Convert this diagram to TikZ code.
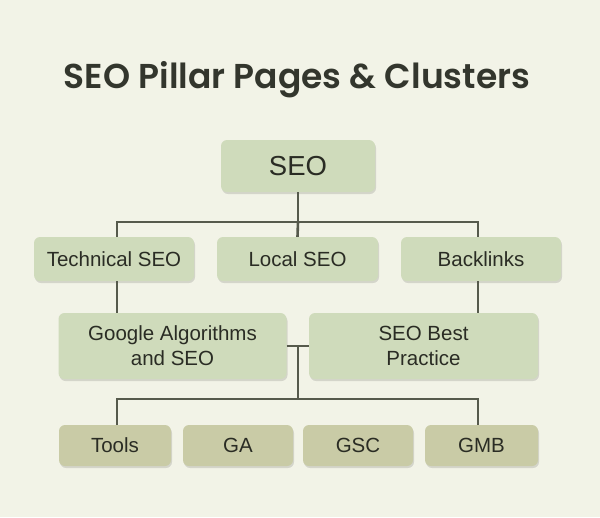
\documentclass[tikz,border=0pt]{standalone}
\usepackage{fontspec}
\setmainfont{Liberation Sans}
\newfontfamily\titlefont{Poppins SemiBold}
\usetikzlibrary{shadows}
\definecolor{bgc}{HTML}{F2F3E7}
\definecolor{boxc}{HTML}{CFDBBB}
\definecolor{leafc}{HTML}{C9CBA6}
\definecolor{linec}{HTML}{565A4C}
\definecolor{txtc}{HTML}{2A2C24}
\definecolor{titc}{HTML}{33362D}
\begin{document}
\begin{tikzpicture}[x=1pt,y=-1pt,
  card/.style={rectangle, rounded corners=6pt, fill=boxc, text=txtc,
    inner sep=0pt, align=center, font=\fontsize{20.5}{25}\selectfont,
    drop shadow={shadow xshift=1pt, shadow yshift=-2pt, opacity=0.12, fill=black}},
  leaf/.style={card, fill=leafc},
  conn/.style={draw=linec, line width=2.6pt}]
\fill[bgc] (0,0) rectangle (600,517);
\useasboundingbox (0,0) rectangle (600,517);
\node[text=titc, font=\titlefont\fontsize{34.5}{40}\selectfont] (title) at (297,80) {SEO Pillar Pages \& Clusters};
\node[card, minimum width=154pt, minimum height=52pt, font=\fontsize{27.5}{30}\selectfont] (seo) at (298,166) {SEO};
\node[card, minimum width=160pt, minimum height=44pt] (tech) at (114,259) {Technical SEO};
\node[card, minimum width=161pt, minimum height=44pt] (local) at (297.5,259) {Local SEO};
\node[card, minimum width=160pt, minimum height=44pt] (back) at (481,259) {Backlinks};
\node[card, minimum width=228pt, minimum height=66pt] (goog) at (172.5,346) {Google Algorithms\\and SEO};
\node[card, minimum width=229pt, minimum height=66pt] (best) at (423.5,346) {SEO Best\\Practice};
\node[leaf, minimum width=112pt, minimum height=41pt] (tools) at (115,445.5) {Tools};
\node[leaf, minimum width=110pt, minimum height=41pt] (ga) at (238,445.5) {GA};
\node[leaf, minimum width=110pt, minimum height=41pt] (gsc) at (358,445.5) {GSC};
\node[leaf, minimum width=113pt, minimum height=41pt] (gmb) at (481.5,445.5) {GMB};
\coordinate (b1) at (298,222);
\coordinate (b2) at (298,399);
\draw[conn] (seo.south) -- (b1);
\draw[conn] ([xshift=3pt]tech.north) |- (b1) -| ([xshift=-3pt]back.north);
\draw[conn] (b1) -- (local.north);
\draw[conn] ([xshift=3pt]tech.south) -- ([xshift=3pt]tech.south |- goog.north);
\draw[conn] ([xshift=-3pt]back.south) -- ([xshift=-3pt]back.south |- best.north);
\draw[conn] (goog.east) -- (best.west);
\draw[conn] (goog.east -| b2) -- (b2);
\draw[conn] ([xshift=2pt]tools.north) |- (b2) -| ([xshift=-3.5pt]gmb.north);
\end{tikzpicture}
\end{document}
